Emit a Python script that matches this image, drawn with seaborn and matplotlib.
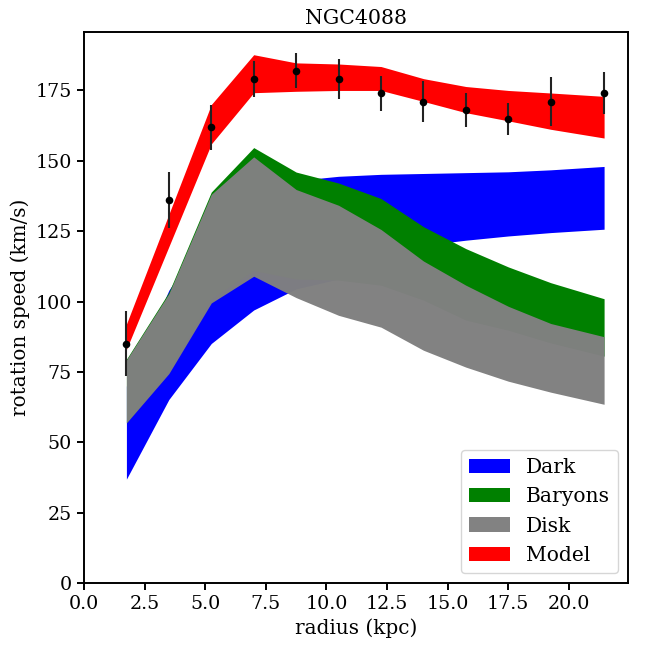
import numpy as np
import pandas as pd
import matplotlib
matplotlib.use("Agg")
import matplotlib.pyplot as plt
import seaborn as sns

# ---- data ----
radius = [1.75, 3.5, 5.25, 7.0, 8.75, 10.5, 12.25, 14.0, 15.75, 17.5, 19.25, 21.45]
v_obs = [85, 136, 162, 179, 182, 179, 174, 171, 168, 165, 171, 174]
v_err = [11.5, 10, 8, 6.5, 6.2, 7, 6.2, 7.2, 6, 5.7, 8.7, 7.5]

dark_lo = [36.9, 65.2, 85.1, 97, 104.5, 108, 113, 120, 121.8, 123.3, 124.5, 125.7]
dark_hi = [70, 104, 127, 137, 143, 144.5, 145.2, 145.5, 145.8, 146.1, 146.8, 148]

bary_lo = [57, 75, 101, 111, 108, 107.6, 105.8, 100.5, 93.4, 89.8, 85.3, 80.6]
bary_hi = [79.5, 103.3, 138.9, 154.7, 146, 142.1, 136.6, 126.6, 118.8, 112.3, 106.7, 101]

disk_lo = [56.9, 74.4, 99.5, 109, 101.4, 95.1, 90.9, 82.7, 76.7, 71.7, 67.8, 63.5]
disk_hi = [79.2, 102.8, 138.1, 151.4, 139.8, 134.2, 125.6, 114.4, 105.8, 98.3, 92.2, 87.5]

model_lo = [83, 119.5, 156, 174.2, 174.7, 175, 175, 171.1, 167.1, 164.2, 161.2, 158.1]
model_hi = [92, 131, 170, 187.7, 184.8, 184.4, 183.5, 179.2, 176.4, 175, 174.1, 172.9]

bands = [
    ("Dark", dark_lo, dark_hi, "blue", 1.0),
    ("Baryons", bary_lo, bary_hi, "green", 1.0),
    ("Disk", disk_lo, disk_hi, "gray", 0.985),
    ("Model", model_lo, model_hi, "red", 1.0),
]

sns.set_style("ticks")
plt.rcParams["font.family"] = ["DejaVu Serif"]
plt.rcParams["axes.edgecolor"] = "black"
plt.rcParams["axes.labelcolor"] = "black"
plt.rcParams["text.color"] = "black"
plt.rcParams["axes.linewidth"] = 1.4
plt.rcParams["xtick.major.size"] = 5.3
plt.rcParams["ytick.major.size"] = 5.3
plt.rcParams["xtick.major.width"] = 1.4
plt.rcParams["ytick.major.width"] = 1.4
plt.rcParams["xtick.color"] = "black"
plt.rcParams["ytick.color"] = "black"

fig, ax = plt.subplots(figsize=(6.48, 6.48), dpi=100)
fig.subplots_adjust(left=0.1296, right=0.9691, bottom=0.1003, top=0.9506)

for name, lo, hi, col, a in bands:
    ax.fill_between(radius, lo, hi, color=col, alpha=a, linewidth=0, label=name)

df = pd.DataFrame({"radius": radius, "v": v_obs, "err": v_err})
ax.errorbar(df["radius"], df["v"], yerr=df["err"], fmt="none",
            ecolor="#222222", elinewidth=1.5, zorder=4)
sns.scatterplot(data=df, x="radius", y="v", color="black", s=30,
                edgecolor="black", linewidth=0, zorder=5, ax=ax, legend=False)

ax.set_xlim(left=0)
ax.set_ylim(bottom=0)
ax.set_xlabel("radius (kpc)", fontsize=14.4)
ax.set_ylabel("rotation speed (km/s)", fontsize=14.4)
ax.set_title("NGC4088", fontsize=14.8)
ax.tick_params(labelsize=13.7)
for s in ax.spines.values():
    s.set_visible(True)

ax.legend(loc="lower right", fontsize=14.6)

fig.savefig("out.png", dpi=100)
